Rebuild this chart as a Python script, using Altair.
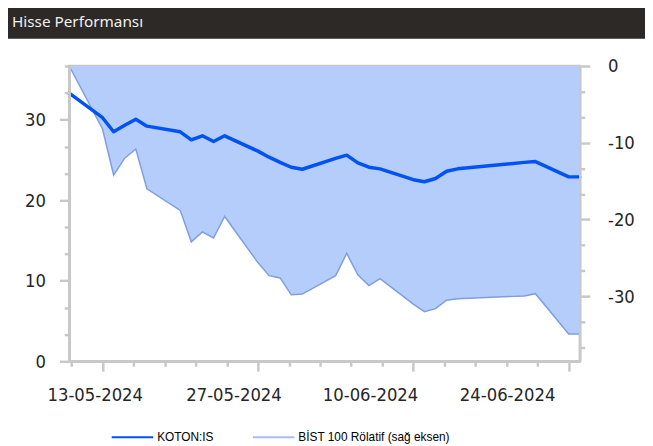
import altair as alt
import pandas as pd

# ---- data ----
dates = ["2024-05-10", "2024-05-13", "2024-05-14", "2024-05-15", "2024-05-16", "2024-05-17",
         "2024-05-20", "2024-05-21", "2024-05-22", "2024-05-23", "2024-05-24",
         "2024-05-27", "2024-05-28", "2024-05-29", "2024-05-30", "2024-05-31",
         "2024-06-03", "2024-06-04", "2024-06-05", "2024-06-06", "2024-06-07",
         "2024-06-10", "2024-06-11", "2024-06-12", "2024-06-13", "2024-06-14",
         "2024-06-20", "2024-06-21", "2024-06-24", "2024-06-25"]
koton = [33.3, 30.25, 28.5, 29.3, 30.05, 29.2,
         28.5, 27.5, 28.0, 27.3, 28.0,
         26.1, 25.35, 24.7, 24.1, 23.85,
         25.2, 25.6, 24.65, 24.1, 23.9,
         22.55, 22.3, 22.7, 23.6, 23.9,
         24.7, 24.8, 22.9, 22.9]
bist_rel = [0.0, -8.2, -14.2, -12.0, -10.8, -16.0,
            -18.8, -22.9, -21.6, -22.4, -19.6,
            -25.6, -27.3, -27.6, -29.8, -29.7,
            -27.3, -24.4, -27.2, -28.6, -27.7,
            -31.0, -32.0, -31.6, -30.5, -30.3,
            -29.95, -29.65, -34.9, -34.9]

series_names = ["KOTON:IS", "BİST 100 Rölatif (sağ eksen)"]
x_labels = ["13-05-2024", "27-05-2024", "10-06-2024", "24-06-2024"]
title_text = "Hisse Performansı"

start = pd.Timestamp(dates[0])
df = pd.DataFrame({
    "date": dates,
    "day": [(pd.Timestamp(d) - start).days for d in dates],
    "koton": koton,
    "bist": bist_rel,
    "series": series_names[0],
})

# ---- axis tick positions (in days from first date) ----
minor_x = [round(3 + 2.8 * k, 2) for k in range(-1, 16)]
major_x = [3, 17, 31, 45]
label_x = [2.3, 14.8, 27.1, 39.45]
x_label_expr = " : ".join(
    f"datum.value == {p} ? '{t}'" for p, t in zip(label_x, x_labels)) + " : ''"

grey = "#c8c8c8"
txt = "#262626"
axis_font = "DejaVu Sans Condensed, Liberation Sans, Arial"

xaxis = alt.Axis(
    values=minor_x + label_x, labelExpr=x_label_expr, title=None, grid=False,
    tickSize={"condition": {"test": f"indexof({major_x}, datum.value) >= 0", "value": 10}, "value": 5},
    tickOpacity={"condition": {"test": f"indexof({label_x}, datum.value) >= 0", "value": 0}, "value": 1},
    labelOverlap=False, labelFlush=False, labelBound=False,
    labelFont=axis_font, labelFontSize=18.5, labelColor=txt, labelPadding=20,
    domainColor=grey, domainWidth=2.5, tickColor=grey, tickWidth=2.5, zindex=1,
)

left_vals = [i * 10 / 3 for i in range(12)]
right_vals = [0] + [-i * 10 / 3 for i in range(1, 12)]
is_major = "abs(datum.value % 10) < 0.001"

left_axis = alt.Axis(
    orient="left", values=left_vals, title=None, grid=False,
    labelExpr=f"{is_major} ? '' + round(datum.value) : ''",
    tickSize={"condition": {"test": is_major, "value": 10}, "value": 5},
    labelFont=axis_font, labelFontSize=18.5, labelColor=txt, labelPadding=14,
    labelOverlap=False, labelFlush=False,
    domainColor=grey, domainWidth=2.5, tickColor=grey, tickWidth=2.5, zindex=1,
)
right_axis = alt.Axis(
    orient="right", values=right_vals, title=None, grid=False,
    labelExpr=f"{is_major} ? '' + round(datum.value) : ''",
    tickSize={"condition": {"test": is_major, "value": 10}, "value": 5},
    labelFont=axis_font, labelFontSize=18.5, labelColor=txt, labelPadding=18,
    labelOverlap=False, labelFlush=False,
    domainColor=grey, domainWidth=2.5, tickColor=grey, tickWidth=2.5, zindex=1,
)

xs = alt.X("day:Q", scale=alt.Scale(domain=[0, 46], nice=False, zero=False), axis=xaxis)

area = alt.Chart(df).mark_area(
    color="#b4cdfa", opacity=1,
    line={"color": "#7e9ede", "strokeWidth": 1.5},
).encode(
    x=xs,
    y=alt.Y("bist:Q", scale=alt.Scale(domain=[-38.46, 0], nice=False, zero=False), axis=right_axis),
    y2=alt.datum(0),
)

line = alt.Chart(df).mark_line(strokeWidth=3.5, strokeJoin="round", strokeCap="round").encode(
    x=xs,
    y=alt.Y("koton:Q", scale=alt.Scale(domain=[0, 36.667], nice=False, zero=False), axis=left_axis),
    color=alt.Color(
        "series:N",
        scale=alt.Scale(domain=series_names, range=["#0052f5", "#a4bff2"]),
        legend=alt.Legend(
            orient="none", legendX=42, legendY=354, direction="horizontal", title=None,
            symbolType="stroke", symbolSize=1764, symbolStrokeWidth=2,
            labelFont="Liberation Sans, Arial", labelFontSize=12, labelColor="#000",
            labelOffset=3, columnPadding=35, padding=0,
        ),
    ),
)

one = alt.Data(values=[{}])
bar = alt.Chart(one).mark_rect(color="#2c2926").encode(
    x=alt.value(-62), x2=alt.value(583), y=alt.value(-70), y2=alt.value(-27.5))
ttl = alt.Chart(one).mark_text(
    text=title_text, align="left", baseline="alphabetic",
    font="Noto Sans", fontSize=15.5, color="#f0f0f0",
).encode(x=alt.value(-58), y=alt.value(-39.5))

chart = alt.layer(area, line, bar, ttl).resolve_scale(y="independent").properties(
    width=517, height=299,
    autosize="none",
    padding={"left": 62, "top": 56, "right": 66, "bottom": 83},
).configure_view(stroke=grey, strokeWidth=2.5)

chart.save("out.html", embed_options={"renderer": "svg", "actions": False})
